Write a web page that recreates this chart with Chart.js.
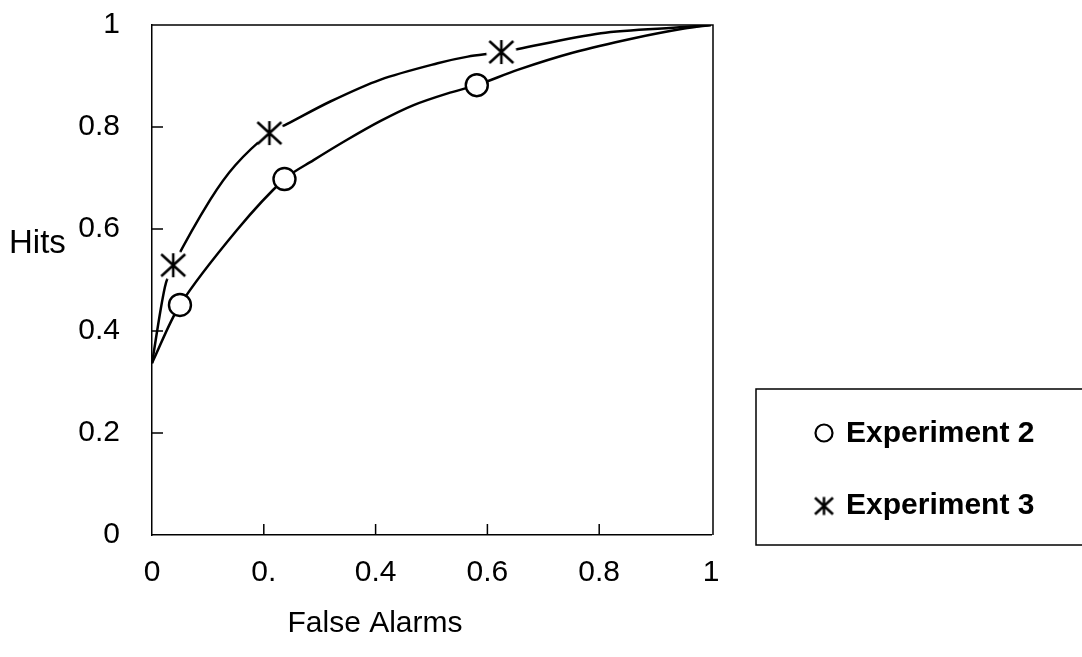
<!DOCTYPE html>
<html>
<head>
<meta charset="utf-8">
<script src="https://cdn.jsdelivr.net/npm/chart.js@4.4.1/dist/chart.umd.min.js"></script>
<style>
  html, body { margin: 0; padding: 0; background: #fff; }
  #wrap { width: 1082px; height: 657px; position: relative; }
</style>
</head>
<body>
<div id="wrap"><canvas id="roc"></canvas></div>
<script>
// tick values and labels
const xTicks = [0, 0.2, 0.4, 0.6, 0.8, 1];
const xTickLabels = ['0', '0.', '0.4', '0.6', '0.8', '1'];
const yTicks = [0, 0.2, 0.4, 0.6, 0.8, 1];
const yTickLabels = ['0', '0.2', '0.4', '0.6', '0.8', '1'];

// fitted curves
const exp2CurveX = [0, 0.050, 0.152, 0.237, 0.289, 0.349, 0.409, 0.468, 0.529, 0.581, 0.654, 0.754, 0.862, 0.952, 1];
const exp2CurveY = [0.337, 0.451, 0.598, 0.698, 0.735, 0.775, 0.812, 0.843, 0.866, 0.882, 0.912, 0.946, 0.974, 0.993, 1];
const exp3CurveX = [0, 0.023, 0.038, 0.104, 0.149, 0.210, 0.242, 0.319, 0.409, 0.511, 0.565, 0.625, 0.803, 0.952, 1];
const exp3CurveY = [0.337, 0.486, 0.529, 0.657, 0.725, 0.788, 0.806, 0.850, 0.893, 0.925, 0.938, 0.947, 0.984, 0.996, 1];

// observed points
const exp2X = [0.050, 0.237, 0.581];
const exp2Y = [0.451, 0.698, 0.882];
const exp3X = [0.038, 0.210, 0.625];
const exp3Y = [0.529, 0.788, 0.947];

const FONT = 'Arial, "Liberation Sans", sans-serif';

function toPts(xs, ys) {
    return xs.map((x, i) => ({x: x, y: ys[i]}));
}

function makeStar(scale, halo) {
    const size = Math.ceil(36 * scale);
    const c = document.createElement('canvas');
    c.width = size; c.height = size;
    const g = c.getContext('2d');
    const m = size / 2;
    if (halo) {
        g.fillStyle = '#fff';
        g.beginPath(); g.arc(m, m, 15 * scale, 0, Math.PI * 2); g.fill();
    }
    g.strokeStyle = '#000';
    g.lineWidth = 2.5;
    g.beginPath();
    g.moveTo(m, m - 12 * scale); g.lineTo(m, m + 12 * scale);
    g.moveTo(m - 12 * scale, m - 11 * scale); g.lineTo(m + 12 * scale, m + 11 * scale);
    g.moveTo(m + 12 * scale, m - 11 * scale); g.lineTo(m - 12 * scale, m + 11 * scale);
    g.stroke();
    return c;
}
const starImg = makeStar(1, true);
const starLegend = makeStar(0.75, false);

const frame = {
    id: 'frame',
    afterDraw(chart) {
        const ctx = chart.ctx;
        const a = chart.chartArea;
        const sx = chart.scales.x, sy = chart.scales.y;
        ctx.save();
        ctx.strokeStyle = '#000';
        ctx.lineWidth = 1.5;
        ctx.beginPath();
        ctx.moveTo(a.left, a.top); ctx.lineTo(a.right + 2, a.top); ctx.lineTo(a.right + 2, a.bottom);
        ctx.stroke();
        // inward tick marks
        ctx.beginPath();
        yTicks.slice(1, -1).forEach(v => {
            const p = sy.getPixelForValue(v);
            ctx.moveTo(a.left, p); ctx.lineTo(a.left + 11, p);
        });
        xTicks.slice(1, -1).forEach(v => {
            const p = sx.getPixelForValue(v);
            ctx.moveTo(p, a.bottom); ctx.lineTo(p, a.bottom - 11);
        });
        ctx.stroke();

        ctx.fillStyle = '#000';
        ctx.font = '30px ' + FONT;
        ctx.textAlign = 'center';
        ctx.textBaseline = 'middle';
        ctx.fillText('False Alarms', 375, 624);
        ctx.textAlign = 'left';
        ctx.font = '33px ' + FONT;
        ctx.fillText('Hits', 9, 244);

        // legend
        ctx.lineWidth = 1.5;
        ctx.strokeRect(756, 389, 400, 156);
        ctx.beginPath();
        ctx.lineWidth = 2.2;
        ctx.arc(824, 433, 8.5, 0, Math.PI * 2);
        ctx.stroke();
        ctx.drawImage(starLegend, 824 - starLegend.width / 2, 506 - starLegend.height / 2);
        ctx.font = 'bold 30px ' + FONT;
        ctx.fillText('Experiment 2', 846, 434);
        ctx.fillText('Experiment 3', 846, 506);
        ctx.restore();
    }
};

new Chart(document.getElementById('roc'), {
    type: 'line',
    data: {
        datasets: [
            {label: 'Experiment 2', type: 'scatter', data: toPts(exp2X, exp2Y), pointStyle: 'circle',
             pointRadius: 11, backgroundColor: '#fff', borderColor: '#000', borderWidth: 2.4, order: 0},
            {label: 'Experiment 3', type: 'scatter', data: toPts(exp3X, exp3Y), pointStyle: starImg,
             pointRadius: 12, order: 0},
            {label: 'fit2', data: toPts(exp2CurveX, exp2CurveY), borderColor: '#000', borderWidth: 2.5,
             pointRadius: 0, tension: 0.3, fill: false, order: 1},
            {label: 'fit3', data: toPts(exp3CurveX, exp3CurveY), borderColor: '#000', borderWidth: 2.5,
             pointRadius: 0, tension: 0.3, fill: false, order: 1}
        ]
    },
    options: {
        responsive: true,
        maintainAspectRatio: false,
        animation: false,
        layout: {padding: {left: 0, right: 371, top: 25, bottom: 0}},
        plugins: {legend: {display: false}, tooltip: {enabled: false}},
        scales: {
            x: {
                type: 'linear', min: 0, max: 1,
                afterBuildTicks: s => { s.ticks = xTicks.map(v => ({value: v})); },
                afterFit: s => { s.height = 122; s.paddingLeft = 0; s.paddingRight = 0; },
                ticks: {
                    callback: (v, i) => xTickLabels[i],
                    color: '#000', font: {family: FONT, size: 30}, padding: 20, maxRotation: 0, autoSkip: false
                },
                grid: {drawOnChartArea: false, drawTicks: false},
                border: {display: true, color: '#000', width: 1.5}
            },
            y: {
                type: 'linear', min: 0, max: 1,
                afterBuildTicks: s => { s.ticks = yTicks.map(v => ({value: v})); },
                afterFit: s => { s.width = 152; s.paddingTop = 0; s.paddingBottom = 0; },
                ticks: {
                    callback: (v, i) => yTickLabels[i],
                    color: '#000', font: {family: FONT, size: 30}, padding: 32, autoSkip: false
                },
                grid: {drawOnChartArea: false, drawTicks: false},
                border: {display: true, color: '#000', width: 1.5}
            }
        }
    },
    plugins: [frame]
});
</script>
</body>
</html>
